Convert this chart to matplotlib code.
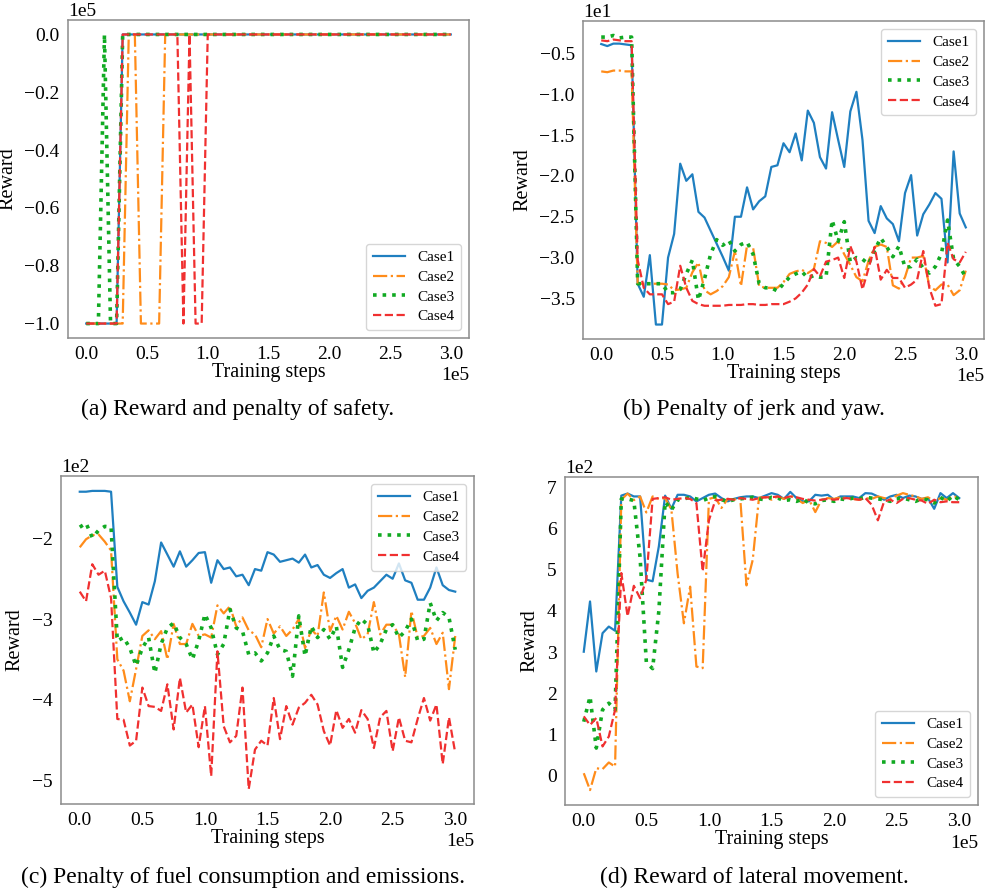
# Training curves for the four reward terms, Case1-Case4
import matplotlib.pyplot as plt
import numpy as np

plt.rcParams['font.family'] = ['Liberation Serif', 'DejaVu Serif']
plt.rcParams['axes.unicode_minus'] = True

# training steps, one sample every 5000 steps
steps = np.arange(0, 300001, 5000)

labels = ['Case1', 'Case2', 'Case3', 'Case4']

# (a) safety reward, in units of 1e5
safety_case1 = [-1, -1, -1, -1, -1, -1, 0, 0, 0, 0, 0, 0, 0, 0, 0, 0, 0, 0, 0, 0,
                0, 0, 0, 0, 0, 0, 0, 0, 0, 0, 0, 0, 0, 0, 0, 0, 0, 0, 0, 0,
                0, 0, 0, 0, 0, 0, 0, 0, 0, 0, 0, 0, 0, 0, 0, 0, 0, 0, 0, 0, 0]
safety_case2 = [-1, -1, -1, -1, -1, -1, -1, 0, 0, -1, -1, -1, -1, 0, 0, 0, 0, 0, 0, 0,
                0, 0, 0, 0, 0, 0, 0, 0, 0, 0, 0, 0, 0, 0, 0, 0, 0, 0, 0, 0,
                0, 0, 0, 0, 0, 0, 0, 0, 0, 0, 0, 0, 0, 0, 0, 0, 0, 0, 0, 0, 0]
safety_case3 = [-1, -1, -1, 0, -1, -1, 0, 0, 0, 0, 0, 0, 0, 0, 0, 0, 0, 0, 0, 0,
                0, 0, 0, 0, 0, 0, 0, 0, 0, 0, 0, 0, 0, 0, 0, 0, 0, 0, 0, 0,
                0, 0, 0, 0, 0, 0, 0, 0, 0, 0, 0, 0, 0, 0, 0, 0, 0, 0, 0, 0, 0]
safety_case4 = [-1, -1, -1, -1, -1, -1, 0, 0, 0, 0, 0, 0, 0, 0, 0, 0, -1, 0, -1, -1,
                0, 0, 0, 0, 0, 0, 0, 0, 0, 0, 0, 0, 0, 0, 0, 0, 0, 0, 0, 0,
                0, 0, 0, 0, 0, 0, 0, 0, 0, 0, 0, 0, 0, 0, 0, 0, 0, 0, 0, 0, 0]

# (b) jerk and yaw penalty, in units of 1e1
jerk_case1 = [-0.385, -0.41, -0.38, -0.38, -0.39, -0.40, -3.32, -3.48, -2.97, -3.82,
              -3.82, -3.00, -2.71, -1.85, -2.06, -1.98, -2.44, -2.51, -2.67, -2.83,
              -2.99, -3.16, -2.50, -2.50, -2.14, -2.41, -2.31, -2.25, -1.89, -1.87,
              -1.60, -1.71, -1.48, -1.81, -1.20, -1.35, -1.77, -1.91, -1.22, -1.56,
              -1.89, -1.21, -0.97, -1.56, -2.55, -2.70, -2.37, -2.52, -2.59, -2.80,
              -2.21, -1.99, -2.73, -2.47, -2.35, -2.21, -2.28, -3.06, -1.70, -2.46, -2.63]
jerk_case2 = [-0.72, -0.73, -0.71, -0.71, -0.72, -0.72, -3.32, -3.32, -3.32, -3.32,
              -3.32, -3.33, -3.40, -3.39, -3.37, -3.18, -3.06, -3.40, -3.45, -3.41,
              -3.35, -3.24, -2.92, -3.35, -2.85, -2.88, -3.35, -3.37, -3.37, -3.37,
              -3.30, -3.20, -3.17, -3.15, -3.19, -3.14, -2.80, -2.82, -2.87, -2.80,
              -2.96, -3.09, -3.24, -3.29, -3.04, -2.87, -2.84, -2.87, -3.34, -3.38,
              -3.24, -3.00, -3.00, -2.98, -3.35, -3.40, -3.33, -3.33, -3.46, -3.40, -3.16]
jerk_case3 = [-0.30, -0.30, -0.28, -0.31, -0.30, -0.30, -3.32, -3.32, -3.32, -3.32,
              -3.32, -3.43, -3.43, -3.39, -3.20, -3.03, -3.52, -3.26, -2.96, -2.78,
              -2.85, -2.79, -2.92, -2.84, -2.81, -2.96, -3.32, -3.37, -3.37, -3.41,
              -3.32, -3.24, -3.20, -3.17, -3.25, -3.22, -3.24, -3.24, -2.54, -2.80,
              -2.56, -3.06, -3.00, -3.02, -3.08, -2.91, -2.76, -2.87, -2.99, -2.86,
              -3.12, -3.11, -3.02, -3.13, -3.19, -3.11, -2.95, -2.54, -3.02, -3.11, -3.24]
jerk_case4 = [-0.34, -0.35, -0.33, -0.34, -0.35, -0.35, -3.03, -3.37, -3.45, -3.45,
              -3.45, -3.57, -3.54, -3.10, -3.37, -3.53, -3.57, -3.59, -3.59, -3.59,
              -3.59, -3.58, -3.58, -3.58, -3.57, -3.57, -3.58, -3.58, -3.57, -3.57,
              -3.57, -3.54, -3.50, -3.43, -3.33, -3.14, -3.23, -3.05, -3.03, -3.00,
              -3.25, -2.86, -3.05, -3.39, -3.13, -2.87, -3.27, -3.15, -3.25, -3.25,
              -3.37, -3.33, -3.27, -2.92, -3.37, -3.59, -3.57, -2.82, -3.02, -3.06, -2.93]

# (c) fuel consumption and emissions penalty, in units of 1e2
fuel_case1 = [-1.42, -1.42, -1.41, -1.41, -1.41, -1.42, -2.60, -2.78, -2.92, -3.07,
              -2.79, -2.82, -2.53, -2.05, -2.20, -2.35, -2.16, -2.35, -2.27, -2.18,
              -2.17, -2.55, -2.27, -2.38, -2.36, -2.47, -2.45, -2.58, -2.38, -2.40,
              -2.17, -2.20, -2.29, -2.27, -2.25, -2.30, -2.20, -2.36, -2.33, -2.45,
              -2.49, -2.43, -2.38, -2.61, -2.57, -2.74, -2.65, -2.61, -2.53, -2.45,
              -2.50, -2.31, -2.52, -2.55, -2.76, -2.76, -2.61, -2.36, -2.58, -2.64, -2.66]
fuel_case2 = [-2.11, -2.01, -1.96, -1.95, -2.04, -2.15, -3.50, -3.64, -4.02, -3.62,
              -3.21, -3.14, -3.25, -3.15, -3.50, -3.06, -3.31, -3.31, -3.06, -3.21,
              -3.19, -3.23, -2.83, -2.93, -2.84, -3.09, -2.98, -3.14, -3.19, -3.35,
              -3.00, -3.18, -3.09, -3.21, -3.13, -3.00, -3.36, -3.13, -3.21, -2.67,
              -3.15, -2.96, -3.13, -2.91, -3.05, -3.25, -3.19, -2.79, -3.19, -3.07,
              -3.07, -3.19, -3.72, -2.90, -3.23, -3.21, -3.11, -3.31, -3.17, -3.87, -3.21]
fuel_case3 = [-1.86, -1.81, -1.99, -1.90, -1.85, -1.86, -3.27, -3.23, -3.36, -3.58,
              -3.36, -3.23, -3.67, -3.31, -3.11, -3.05, -3.23, -3.31, -3.50, -3.27,
              -2.94, -3.11, -3.44, -3.31, -2.88, -3.11, -3.15, -3.44, -3.42, -3.52,
              -3.42, -3.21, -3.38, -3.40, -3.71, -2.96, -3.46, -3.09, -3.23, -3.13,
              -3.25, -3.09, -3.60, -3.38, -3.11, -3.00, -3.07, -3.42, -3.31, -3.13,
              -3.07, -3.23, -3.15, -3.00, -3.27, -3.25, -2.80, -3.02, -2.92, -2.98, -3.38]
fuel_case4 = [-2.66, -2.78, -2.32, -2.45, -2.40, -2.74, -4.24, -4.25, -4.57, -4.51,
              -3.85, -4.08, -4.09, -4.14, -3.81, -4.37, -3.73, -4.16, -4.06, -4.59,
              -4.08, -4.95, -3.40, -4.33, -4.53, -4.45, -3.85, -5.11, -4.62, -4.51,
              -4.57, -3.98, -4.49, -4.08, -4.31, -4.10, -4.04, -3.94, -4.06, -4.39,
              -4.57, -4.13, -4.35, -4.24, -4.41, -4.13, -4.24, -4.60, -4.22, -4.14,
              -4.64, -4.22, -4.51, -4.53, -4.24, -3.98, -4.26, -4.06, -4.80, -4.22, -4.66]

# (d) lateral movement reward, in units of 1e2
lateral_case1 = [3.01, 4.23, 2.53, 3.46, 3.62, 3.52, 6.80, 6.85, 6.78, 6.78,
                 4.76, 4.72, 5.57, 6.80, 6.48, 6.82, 6.82, 6.78, 6.66, 6.74,
                 6.82, 6.85, 6.74, 6.66, 6.72, 6.76, 6.78, 6.78, 6.74, 6.80,
                 6.86, 6.82, 6.72, 6.89, 6.74, 6.66, 6.66, 6.82, 6.80, 6.82,
                 6.70, 6.78, 6.78, 6.78, 6.74, 6.86, 6.85, 6.78, 6.70, 6.78,
                 6.82, 6.74, 6.80, 6.78, 6.72, 6.74, 6.48, 6.86, 6.74, 6.86, 6.74]
lateral_case2 = [0.06, -0.35, 0.18, 0.16, 0.32, 0.22, 6.70, 6.85, 6.69, 6.78,
                 6.39, 6.78, 6.72, 6.74, 6.46, 4.90, 3.70, 4.59, 2.65, 2.61,
                 6.72, 6.76, 6.50, 6.72, 6.70, 6.74, 4.62, 5.24, 6.75, 6.76,
                 6.70, 6.78, 6.72, 6.80, 6.72, 6.62, 6.70, 6.40, 6.70, 6.74,
                 6.72, 6.76, 6.74, 6.72, 6.70, 6.74, 6.72, 6.78, 6.74, 6.72,
                 6.80, 6.86, 6.82, 6.78, 6.72, 6.76, 6.66, 6.74, 6.70, 6.78, 6.76]
lateral_case3 = [1.31, 1.92, 0.67, 1.60, 1.76, 1.60, 6.72, 6.72, 6.68, 5.30,
                 2.75, 2.60, 4.00, 6.65, 6.45, 6.70, 6.72, 6.76, 6.72, 6.68,
                 6.74, 6.78, 6.70, 6.66, 6.70, 6.72, 6.74, 6.76, 6.72, 6.70,
                 6.76, 6.74, 6.68, 6.70, 6.66, 6.72, 6.62, 6.60, 6.68, 6.70,
                 6.66, 6.72, 6.70, 6.74, 6.72, 6.76, 6.74, 6.72, 6.70, 6.66,
                 6.72, 6.74, 6.70, 6.66, 6.72, 6.70, 6.62, 6.76, 6.66, 6.80, 6.70]
lateral_case4 = [1.44, 1.23, 1.40, 0.71, 0.95, 1.60, 4.92, 3.87, 4.61, 4.31,
                 4.76, 6.72, 6.74, 6.76, 6.70, 6.72, 6.74, 6.72, 6.62, 4.96,
                 6.20, 6.68, 6.70, 6.72, 6.70, 6.74, 6.72, 6.70, 6.74, 6.76,
                 6.76, 6.78, 6.74, 6.78, 6.76, 6.72, 6.70, 6.68, 6.70, 6.72,
                 6.70, 6.72, 6.74, 6.72, 6.70, 6.74, 6.58, 6.20, 6.66, 6.70,
                 6.62, 6.72, 6.74, 6.70, 6.68, 6.60, 6.70, 6.64, 6.66, 6.64, 6.64]

colors = ['#1f7fc0', '#ff8c1a', '#11aa22', '#f03030']
styles = ['-', '-.', ':', '--']
widths = [1.6, 1.6, 2.6, 1.6]

panels = [
    ([safety_case1, safety_case2, safety_case3, safety_case4], 1e5,
     [-1e5, -0.8e5, -0.6e5, -0.4e5, -0.2e5, 0], 'lower right',
     '(a) Reward and penalty of safety.'),
    ([jerk_case1, jerk_case2, jerk_case3, jerk_case4], 1e1,
     [-35, -30, -25, -20, -15, -10, -5], 'upper right',
     '(b) Penalty of jerk and yaw.'),
    ([fuel_case1, fuel_case2, fuel_case3, fuel_case4], 1e2,
     [-500, -400, -300, -200], 'upper right',
     '(c) Penalty of fuel consumption and emissions.'),
    ([lateral_case1, lateral_case2, lateral_case3, lateral_case4], 1e2,
     [0, 100, 200, 300, 400, 500, 600, 700], 'lower right',
     '(d) Reward of lateral movement.'),
]

W, H = 992, 892
boxes = [(68, 20, 469, 338), (583, 21, 984, 339),
         (61, 476, 474, 804), (565, 477, 978, 805)]
caption_pos = [(238, 409), (754, 409), (243, 877), (754, 877)]

fig = plt.figure(figsize=(W / 100, H / 100), dpi=100)

for (series, scale, yticks, legloc, caption), (x0, y0, x1, y1), (cx, cy) in zip(panels, boxes, caption_pos):
    ax = fig.add_axes([x0 / W, 1 - y1 / H, (x1 - x0) / W, (y1 - y0) / H])
    for vals, lab, c, ls, lw in zip(series, labels, colors, styles, widths):
        ax.plot(steps, np.array(vals) * scale, color=c, linestyle=ls, linewidth=lw, label=lab)

    ax.set_xticks([0, 50000, 100000, 150000, 200000, 250000, 300000])
    ax.set_yticks(yticks)
    ax.ticklabel_format(style='sci', axis='both', scilimits=(0, 0))
    ax.tick_params(length=0, pad=6, labelsize=14)
    ax.xaxis.get_offset_text().set_fontsize(14)
    ax.yaxis.get_offset_text().set_fontsize(14)
    for sp in ax.spines.values():
        sp.set_color('#8c8c8c')
        sp.set_linewidth(1.1)

    ax.set_xlabel('Training steps', fontsize=14.5, labelpad=0)
    ax.set_ylabel('Reward', fontsize=14.5, labelpad=5)
    ax.legend(loc=legloc, fontsize=11, handlelength=2.1, labelspacing=0.4,
              borderpad=0.45)

    fig.text(cx / W, 1 - cy / H, caption, ha='center', va='center', fontsize=17)

savefile = 'out.png'
fig.savefig(savefile, dpi=100)
